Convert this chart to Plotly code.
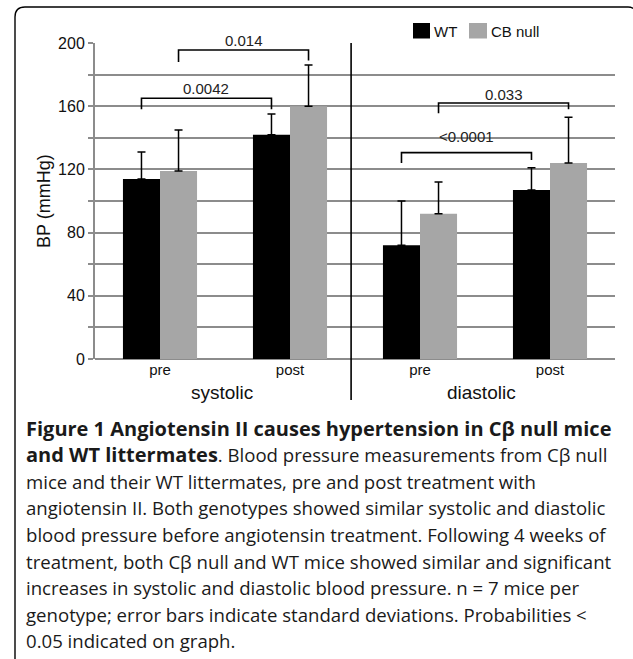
import plotly.graph_objects as go

# ---------------- data ----------------
categories = ["pre", "post", "pre", "post"]
groups = ["systolic", "diastolic"]
series_names = ["WT", "CB null"]
wt_mean = [114, 142, 72, 107]
wt_sd = [17, 13, 28, 14]
cb_mean = [119, 160, 92, 124]
cb_sd = [26, 26, 20, 29]
y_ticks = [0, 40, 80, 120, 160, 200]

# significance brackets
p_labels = ["0.0042", "0.014", "&lt;0.0001", "0.033"]
p_from = [(0, 0), (0, 1), (2, 0), (2, 1)]
p_to = [(1, 0), (1, 1), (3, 0), (3, 1)]
p_top = [165, 195.6, 130.6, 162]
p_left = [158, 188, 124, 155.5]
p_right = [158, 189, 126, 158]
p_text_y = [171, 201.3, 141, 167.5]

BOLD = '<span style="font-size:20px"><b>{}</b></span>'
caption_lines = [
    BOLD.format("Figure 1 Angiotensin II causes hypertension in Cβ null mice"),
    BOLD.format("and WT littermates") + ". Blood pressure measurements from Cβ null",
    "mice and their WT littermates, pre and post treatment with",
    "angiotensin II. Both genotypes showed similar systolic and diastolic",
    "blood pressure before angiotensin treatment. Following 4 weeks of",
    "treatment, both Cβ null and WT mice showed similar and significant",
    "increases in systolic and diastolic blood pressure. n = 7 mice per",
    "genotype; error bars indicate standard deviations. Probabilities &lt;",
    "0.05 indicated on graph.",
]

# ---------------- layout constants ----------------
W, H = 633, 659
L, R, T, B = 95, 615, 43, 359
YMAX = 200
BARGAP = 0.43
GRID = "#8c8c8c"
GRAYBAR = "#a6a6a6"
FONT = "Liberation Sans, Arial, sans-serif"
CAPFONT = "Open Sans, sans-serif"


def px(x):
    return (x - L) / (R - L)


def py(y):
    return (B - y) / (B - T)


x = list(range(len(categories)))
half = (1 - BARGAP) / 4.0  # offset of a bar center from the category center

fig = go.Figure()
fig.add_trace(go.Bar(
    x=x, y=wt_mean, name=series_names[0], marker=dict(color="#000000", line_width=0),
    error_y=dict(type="data", array=wt_sd, arrayminus=[0] * 4, symmetric=False,
                 color="#000000", thickness=1.5, width=4),
))
fig.add_trace(go.Bar(
    x=x, y=cb_mean, name=series_names[1], marker=dict(color=GRAYBAR, line_width=0),
    error_y=dict(type="data", array=cb_sd, arrayminus=[0] * 4, symmetric=False,
                 color="#000000", thickness=1.5, width=4),
))

shapes = []
annotations = []

# brackets
for lab, f, t, top, le, re, ty in zip(p_labels, p_from, p_to, p_top, p_left, p_right, p_text_y):
    x0 = f[0] + (-half if f[1] == 0 else half)
    x1 = t[0] + (-half if t[1] == 0 else half)
    shapes.append(dict(type="path", xref="x", yref="y",
                       path=f"M {x0},{le} L {x0},{top} L {x1},{top} L {x1},{re}",
                       line=dict(color="#000000", width=1.6)))
    annotations.append(dict(x=(x0 + x1) / 2, y=ty / YMAX, xref="x", yref="paper", text=lab,
                            showarrow=False, font=dict(family=FONT, size=15, color="#222"),
                            xanchor="center", yanchor="middle"))

# divider between systolic and diastolic
shapes.append(dict(type="line", xref="x", yref="paper", x0=1.47, x1=1.47,
                   y0=py(400), y1=1, line=dict(color="#000000", width=1.6)))

# group labels
for gx, g in zip([0.48, 2.47], groups):
    annotations.append(dict(x=gx, y=py(393), xref="x", yref="paper", text=g, showarrow=False,
                            font=dict(family=FONT, size=19, color="#111"),
                            xanchor="center", yanchor="middle"))

# y-axis title
annotations.append(dict(x=px(44), y=py(201), xref="paper", yref="paper", text="BP (mmHg)",
                        textangle=-90, showarrow=False,
                        font=dict(family=FONT, size=18, color="#111"),
                        xanchor="center", yanchor="middle"))

# legend (manual)
leg = [(413, 430, "#000000", 432, series_names[0]), (469, 487, GRAYBAR, 488.5, series_names[1])]
for x0, x1, col, tx, name in leg:
    shapes.append(dict(type="rect", xref="paper", yref="paper", x0=px(x0), x1=px(x1),
                       y0=py(38.5), y1=py(23), fillcolor=col, line=dict(width=0)))
    annotations.append(dict(x=px(tx), y=py(31), xref="paper", yref="paper", text=name,
                            showarrow=False, font=dict(family=FONT, size=15, color="#111"),
                            xanchor="left", yanchor="middle"))

# caption
for i, line in enumerate(caption_lines):
    annotations.append(dict(x=px(24), y=py(428 + i * 26.6), xref="paper", yref="paper",
                            text=line, showarrow=False, align="left",
                            font=dict(family=CAPFONT, size=18.6, color="#1a1a1a"),
                            xanchor="left", yanchor="middle"))

# frame with rounded top-left corner
fx0, fy0, fx1, fy1 = 15, 7, 640, 670
shapes.append(dict(type="path", xref="paper", yref="paper", layer="below",
                   path=(f"M {px(fx0)},{py(fy1)} L {px(fx0)},{py(fy0 + 10)} "
                         f"Q {px(fx0)},{py(fy0)} {px(fx0 + 10)},{py(fy0)} "
                         f"L {px(628)},{py(fy0)} Q {px(633)},{py(fy0)} {px(636)},{py(fy0 + 4)}"),
                   line=dict(color="#000000", width=1.4)))

fig.update_layout(
    width=W, height=H,
    margin=dict(l=L, r=W - R, t=T, b=H - B, pad=0),
    paper_bgcolor="white", plot_bgcolor="white",
    barmode="group", bargap=BARGAP, bargroupgap=0,
    showlegend=False,
    font=dict(family=FONT, color="#111"),
    shapes=shapes, annotations=annotations,
    xaxis=dict(range=[-0.5, 3.5], tickmode="array", tickvals=x, ticktext=categories,
               showgrid=False, zeroline=False, showline=False, ticks="",
               tickfont=dict(family=FONT, size=15, color="#111")),
    yaxis=dict(range=[0, YMAX], tickmode="array", tickvals=y_ticks,
               showgrid=True, gridcolor=GRID, gridwidth=2,
               zeroline=True, zerolinecolor=GRID, zerolinewidth=2,
               showline=True, linecolor=GRID, linewidth=2,
               ticks="outside", ticklen=5, tickwidth=2, tickcolor=GRID,
               minor=dict(dtick=20, showgrid=True, gridcolor=GRID, gridwidth=2,
                          ticks="outside", ticklen=5, tickwidth=2, tickcolor=GRID),
               tickfont=dict(family=FONT, size=16, color="#111")),
)

fig.write_html("out.html", config={"displayModeBar": False},
               post_script="document.body.style.margin='0';document.body.style.overflow='hidden';")
